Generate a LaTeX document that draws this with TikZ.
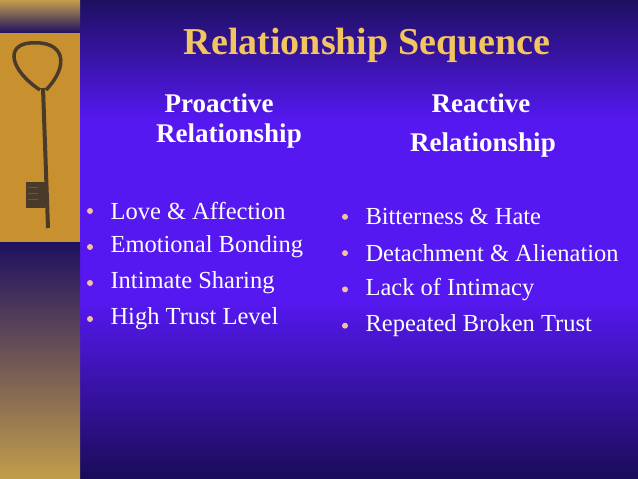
\documentclass[tikz,border=0pt]{standalone}
\usepackage{fontspec}
\setmainfont{Liberation Serif}
\definecolor{titlegold}{HTML}{F2C55E}
\definecolor{dotpeach}{HTML}{F5C0A0}
\definecolor{slidetop}{HTML}{1E1060}
\definecolor{slidemid}{HTML}{5518F0}
\definecolor{slidebot}{HTML}{1A0C58}
\definecolor{sand}{HTML}{C8902E}
\definecolor{keybrown}{HTML}{4A3A2A}
\tikzset{
  heading/.style={text=white,font=\fontsize{27}{32}\selectfont\bfseries,align=center},
  bullet/.style={text=white,font=\fontsize{24.5}{29}\selectfont,anchor=west},
  dot/.style={circle,fill=dotpeach,inner sep=0pt,minimum size=6pt}
}
\begin{document}
\begin{tikzpicture}[x=1pt,y=-1pt]
\useasboundingbox (0,0) rectangle (638,479);
% background
\shade[top color=slidetop,bottom color=slidemid] (80,0) rectangle (638,120);
\fill[slidemid] (80,120) rectangle (638,300);
\shade[top color=slidemid,bottom color=slidebot] (80,300) rectangle (638,479);
% left strip
\shade[top color=titlegold!80!black,bottom color=slidetop] (0,0) rectangle (80,33);
\fill[sand] (0,33) rectangle (80,242);
\shade[top color=slidetop,bottom color=titlegold!80!black] (0,242) rectangle (80,479);
% key
\draw[keybrown,line width=3.5pt] (40,90) .. controls (10,70) and (5,45) .. (30,43)
  .. controls (65,40) and (70,65) .. (46,90);
\draw[keybrown,line width=4pt] (43,88) -- (48,228);
\fill[keybrown] (26,182) rectangle (45,208);
\foreach \yy in {187,193,199} \draw[sand!60!black,line width=1pt] (28,\yy) -- (38,\yy);
% text
\node[text=titlegold,font=\fontsize{38}{44}\selectfont\bfseries] (title) at (367,45) {Relationship Sequence};
\node[heading] (pro1) at (219,103) {Proactive};
\node[heading] (pro2) at (229,136) {Relationship};
\node[heading] (re1) at (481,103) {Reactive};
\node[heading] (re2) at (483,145) {Relationship};
\foreach \t [count=\i] in {Love \& Affection,Emotional Bonding,Intimate Sharing,High Trust Level} {
  \node[dot] (ld\i) at (90,175+36*\i) {};
  \node[bullet] (lt\i) at (107,175+36*\i) {\t};
}
\foreach \t [count=\i] in {Bitterness \& Hate,Detachment \& Alienation,Lack of Intimacy,Repeated Broken Trust} {
  \node[dot] (rd\i) at (345,180.5+36.3*\i) {};
  \node[bullet] (rt\i) at (362,180.5+36.3*\i) {\t};
}
\end{tikzpicture}
\end{document}
